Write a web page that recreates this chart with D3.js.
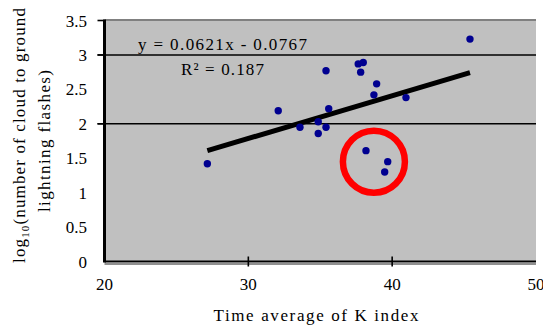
<!DOCTYPE html>
<html><head><meta charset="utf-8">
<script src="https://cdn.jsdelivr.net/npm/d3@7"></script>
<style>
html,body{margin:0;padding:0;background:#fff;}
svg{display:block;}
</style></head>
<body>
<svg id="c" width="543" height="329"></svg>
<script>
// ---- data ----
const kIndex = [45.41, 37.99, 37.64, 37.81, 35.40, 38.92, 38.73, 40.96, 32.08, 35.59, 34.86, 33.59, 35.40, 34.86, 38.18, 39.69, 39.48, 27.15];
const logFlashes = [3.23, 2.89, 2.87, 2.75, 2.77, 2.58, 2.42, 2.38, 2.19, 2.22, 2.03, 1.95, 1.95, 1.86, 1.61, 1.45, 1.30, 1.42];
const trendSlope = 0.0621;
const trendIntercept = -0.0767;
const rSquared = 0.187;
const xTicks = [20, 30, 40, 50];
const xTickMarks = [30, 40];
const yTicks = [0, 0.5, 1, 1.5, 2, 2.5, 3, 3.5];
const yTickMarks = [2, 3, 3.5];
const gridValues = [2, 3];
const highlightCenter = [38.73, 1.45];
const xTitle = "Time average of K index";
const yTitleLine1 = ["log", "10", "(number of cloud to ground"];
const yTitleLine2 = "lightning flashes)";

const FONT = "'Liberation Serif', 'Times New Roman', serif";
const svg = d3.select("#c");
const L = 104.5, R = 536, T = 20.5, B = 261.5;
const x = d3.scaleLinear().domain([20, 50]).range([L, R]);
const y = d3.scaleLinear().domain([0, 3.5]).range([B, T]);

// plot background
svg.append("rect").attr("x", L).attr("y", T).attr("width", R - L).attr("height", B - T).attr("fill", "#c0c0c0");
// top border (gray)
svg.append("line").attr("x1", L).attr("x2", R).attr("y1", T - 0.5).attr("y2", T - 0.5).attr("stroke", "#808080").attr("stroke-width", 2);
// bottom shadow
svg.append("line").attr("x1", L).attr("x2", R).attr("y1", B + 2.5).attr("y2", B + 2.5).attr("stroke", "#909090").attr("stroke-width", 2);

// gridlines
svg.selectAll(".grid").data(gridValues).enter().append("line")
  .attr("x1", L - 7).attr("x2", R)
  .attr("y1", d => y(d)).attr("y2", d => y(d))
  .attr("stroke", "#000").attr("stroke-width", 1.6);

// y tick marks
svg.selectAll(".ytm").data(yTickMarks).enter().append("line")
  .attr("x1", L - 7).attr("x2", L)
  .attr("y1", d => y(d)).attr("y2", d => y(d))
  .attr("stroke", "#000").attr("stroke-width", 1.6);

// axes lines
svg.append("line").attr("x1", L).attr("x2", R).attr("y1", B).attr("y2", B).attr("stroke", "#000").attr("stroke-width", 2);
svg.append("line").attr("x1", L).attr("x2", L).attr("y1", T - 1).attr("y2", B + 1).attr("stroke", "#000").attr("stroke-width", 3);

// x tick marks
svg.selectAll(".xtm").data(xTickMarks).enter().append("line")
  .attr("x1", d => x(d)).attr("x2", d => x(d))
  .attr("y1", B - 5).attr("y2", B + 5)
  .attr("stroke", "#000").attr("stroke-width", 1.6);

// tick labels
svg.selectAll(".xl").data(xTicks).enter().append("text")
  .style("font-family", FONT)
  .attr("x", d => x(d)).attr("y", 290)
  .attr("text-anchor", "middle").attr("font-size", 17).attr("fill", "#000")
  .text(d => d);
svg.selectAll(".yl").data(yTicks).enter().append("text")
  .style("font-family", FONT)
  .attr("x", 87).attr("y", d => y(d) + 6)
  .attr("text-anchor", "end").attr("font-size", 17).attr("fill", "#000")
  .text(d => d);

// axis titles
svg.append("text").style("font-family", FONT).attr("x", 316).attr("y", 321).attr("text-anchor", "middle")
  .attr("font-size", 17).attr("textLength", 205).attr("lengthAdjust", "spacing").text(xTitle);

const t1 = svg.append("text").style("font-family", FONT).attr("transform", "translate(25,135.5) rotate(-90)")
  .attr("text-anchor", "middle").attr("font-size", 17);
t1.append("tspan").text(yTitleLine1[0]);
t1.append("tspan").attr("font-size", 11).attr("dy", 4).text(yTitleLine1[1]);
t1.append("tspan").attr("dy", -4).text(yTitleLine1[2]);
t1.attr("textLength", 255).attr("lengthAdjust", "spacing");

svg.append("text").style("font-family", FONT).attr("transform", "translate(50,141) rotate(-90)")
  .attr("text-anchor", "middle").attr("font-size", 17)
  .attr("textLength", 142).attr("lengthAdjust", "spacing").text(yTitleLine2);

// trend line
const xExt = d3.extent(kIndex);
svg.append("line")
  .attr("x1", x(xExt[0])).attr("y1", y(trendSlope * xExt[0] + trendIntercept))
  .attr("x2", x(xExt[1])).attr("y2", y(trendSlope * xExt[1] + trendIntercept))
  .attr("stroke", "#000").attr("stroke-width", 5);

// points
const pts = kIndex.map((k, i) => [k, logFlashes[i]]);
svg.selectAll(".pt").data(pts).enter().append("circle")
  .attr("cx", d => x(d[0])).attr("cy", d => y(d[1])).attr("r", 3.7)
  .attr("fill", "#000090");

// equation
svg.append("text").style("font-family", FONT).attr("x", 138).attr("y", 50).attr("font-size", 17)
  .attr("textLength", 169).attr("lengthAdjust", "spacing")
  .text("y = " + trendSlope.toFixed(4) + "x - " + Math.abs(trendIntercept).toFixed(4));
svg.append("text").style("font-family", FONT).attr("x", 181).attr("y", 75).attr("font-size", 17)
  .attr("textLength", 83).attr("lengthAdjust", "spacing")
  .text("R\u00B2 = " + rSquared);

// highlight circle
svg.append("circle").attr("cx", x(highlightCenter[0])).attr("cy", y(highlightCenter[1]))
  .attr("r", 31).attr("fill", "none").attr("stroke", "#ff0000").attr("stroke-width", 6.5);
</script>
</body></html>
